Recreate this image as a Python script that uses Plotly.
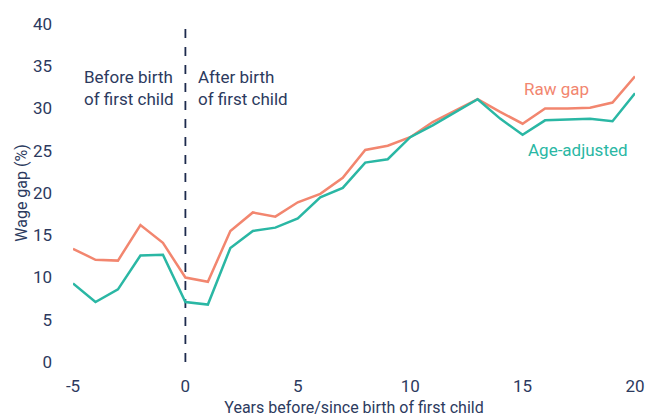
import plotly.graph_objects as go

# years relative to birth of first child
years = list(range(-5, 21))

raw_gap = [13.4, 12.1, 12.0, 16.2, 14.1, 10.0, 9.5, 15.5, 17.7, 17.2, 18.9, 19.9, 21.8,
           25.1, 25.6, 26.6, 28.4, 29.8, 31.1, 29.6, 28.2, 30.0, 30.0, 30.1, 30.7, 33.8]
age_adjusted = [9.3, 7.1, 8.6, 12.6, 12.7, 7.1, 6.8, 13.5, 15.5, 15.9, 17.0, 19.5, 20.6,
                23.6, 24.0, 26.6, 28.0, 29.6, 31.1, 28.8, 26.9, 28.6, 28.7, 28.8, 28.5, 31.8]

x_ticks = [-5, 0, 5, 10, 15, 20]
x_tick_labels = ["-5", "0", "5", "10", "15", "20"]
y_ticks = [0, 5, 10, 15, 20, 25, 30, 35, 40]

NAVY = "#2c3a5e"
ORANGE = "#f2866f"
TEAL = "#2ab7a4"
FONT = "Roboto, sans-serif"

fig = go.Figure()

fig.add_trace(go.Scatter(x=years, y=raw_gap, mode="lines", name="Raw gap",
                         line=dict(color=ORANGE, width=2.5)))
fig.add_trace(go.Scatter(x=years, y=age_adjusted, mode="lines", name="Age-adjusted",
                         line=dict(color=TEAL, width=2.5)))

# birth of first child marker
fig.add_shape(type="line", xref="x", yref="y", x0=0, x1=0, y0=0, y1=40,
              line=dict(color="#1d2a4d", width=1.8, dash="dash"), layer="below")

label_font = dict(family=FONT, size=17, color=NAVY)
fig.add_annotation(x=-4.6, y=32.4, xref="x", yref="y", text="Before birth<br>of first child",
                   showarrow=False, xanchor="left", yanchor="middle", align="left",
                   font=label_font)
fig.add_annotation(x=0.47, y=32.4, xref="x", yref="y", text="After birth<br>of first child",
                   showarrow=False, xanchor="left", yanchor="middle", align="left",
                   font=label_font)
fig.add_annotation(x=16.5, y=32.3, xref="x", yref="y", text="Raw gap",
                   showarrow=False, xanchor="center", yanchor="middle",
                   font=dict(family=FONT, size=17, color=ORANGE))
fig.add_annotation(x=17.45, y=25.1, xref="x", yref="y", text="Age-adjusted",
                   showarrow=False, xanchor="center", yanchor="middle",
                   font=dict(family=FONT, size=17, color=TEAL))

fig.update_layout(
    width=662,
    height=419,
    showlegend=False,
    plot_bgcolor="white",
    paper_bgcolor="white",
    font=dict(family=FONT, size=17, color=NAVY),
    margin=dict(l=65, r=35, t=16, b=65, autoexpand=False),
)

fig.update_xaxes(
    range=[-5, 20], tickvals=x_ticks, ticktext=x_tick_labels, showgrid=False,
    zeroline=False, showline=False, ticks="", ticklabelstandoff=12, automargin=False,
    title=dict(text="Years before/since birth of first child", standoff=6,
               font=dict(size=16, color=NAVY)),
)
fig.update_yaxes(
    range=[0, 40], tickvals=y_ticks, showgrid=False, zeroline=False, showline=False,
    ticks="", ticklabelstandoff=20, automargin=False,
    title=dict(text="Wage gap (%)", standoff=1, font=dict(size=16, color=NAVY)),
)

fig.write_html("out.html")
